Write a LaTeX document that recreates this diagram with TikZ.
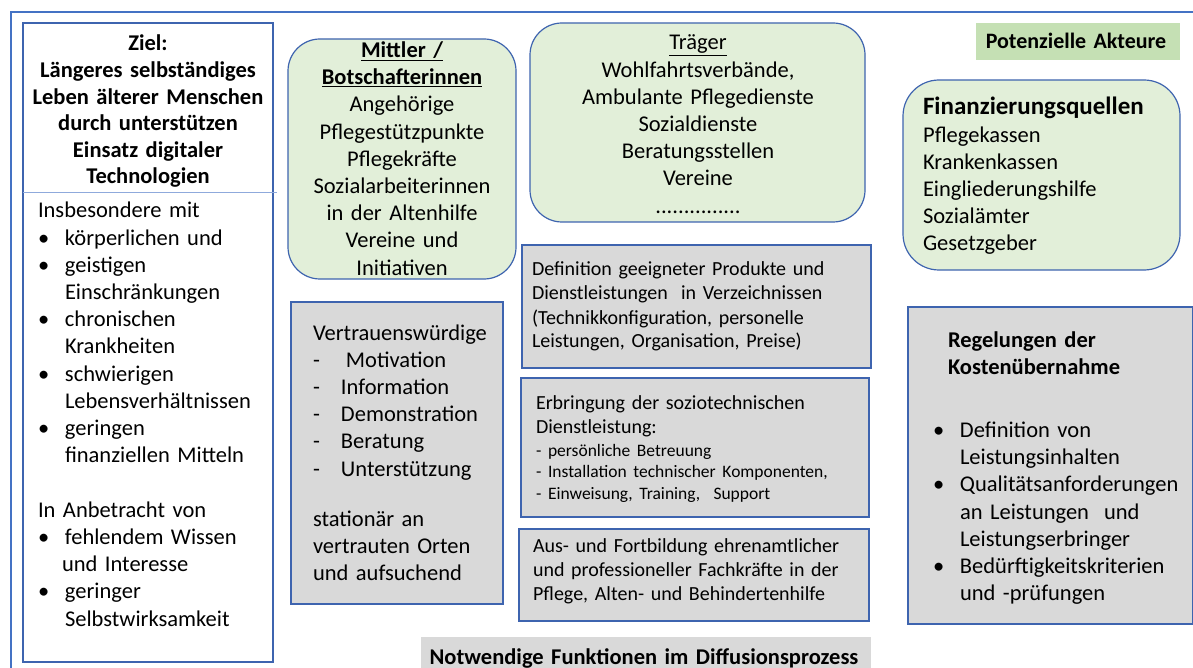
\documentclass[tikz,border=0pt]{standalone}
\usepackage{fontspec}
\setmainfont{Carlito}
\usetikzlibrary{positioning}
\definecolor{rahmen}{RGB}{68,114,196}
\definecolor{kante}{RGB}{62,100,175}
\definecolor{hellgruen}{RGB}{226,239,217}
\definecolor{gruen}{RGB}{197,224,180}
\definecolor{grau}{RGB}{217,217,217}
\definecolor{trennlinie}{RGB}{143,170,220}
\newcommand{\bul}{\makebox[27pt][l]{\textbullet}}
\newcommand{\strich}{\makebox[28pt][l]{-}}
\newcommand{\gross}{\fontsize{22.5}{27.2}\selectfont}
\newcommand{\mittel}{\fontsize{20}{24}\selectfont}
\newcommand{\klein}{\fontsize{17.5}{21.5}\selectfont}
\tikzset{
	kasten/.style={draw=kante, line width=1.2pt, anchor=north west, inner sep=0pt, outer sep=0pt},
	gruenkasten/.style={kasten, fill=hellgruen, rounded corners=32pt},
	graukasten/.style={kasten, fill=grau},
	txt/.style={inner sep=0pt, outer sep=0pt, anchor=base west, align=left, text width=#1},
	txt/.default=300pt,
	mitte/.style={inner sep=0pt, outer sep=0pt, anchor=base, align=center, text width=#1},
	mitte/.default=300pt
}

\begin{document}
\begin{tikzpicture}[x=1pt, y=-1pt]
	\useasboundingbox (0,0) rectangle (1193,668);
	% aeusserer Rahmen
	\draw[rahmen, line width=1.4pt] (11,668) -- (11,12) -- (1193,12);

	% Kaesten
	\node[kasten, minimum width=250pt, minimum height=639pt] (ziel) at (23,23) {};
	\node[gruenkasten, minimum width=228pt, minimum height=240pt] (mittler) at (288,39) {};
	\node[gruenkasten, minimum width=335pt, minimum height=199pt] (traeger) at (530,23) {};
	\node[kasten, draw=none, fill=gruen, minimum width=204pt, minimum height=37pt] (akteure) at (976,23) {};
	\node[gruenkasten, rounded corners=36pt, minimum width=277pt, minimum height=190pt] (finanz) at (903,80) {};
	\node[graukasten, minimum width=212pt, minimum height=302pt] (vertrauen) at (291,302) {};
	\node[graukasten, minimum width=349pt, minimum height=123pt] (definition) at (522,245) {};
	\node[graukasten, minimum width=348pt, minimum height=139pt] (erbringung) at (521,378) {};
	\node[graukasten, minimum width=350pt, minimum height=92pt] (fortbildung) at (519,529) {};
	\node[graukasten, minimum width=285pt, minimum height=317pt] (regelung) at (908,307) {};
	\node[kasten, draw=none, fill=grau, minimum width=450pt, minimum height=40pt] (notwendig) at (421,637) {};

	\draw[trennlinie, line width=0.8pt] (ziel.west |- 0,192) -- (277,192);

	% Texte
	\node[mitte=250pt, font=\bfseries\fontsize{22.5}{26.6}\selectfont] (zieltitel) at (148,51)
		{Ziel:\\Längeres selbständiges\\Leben älterer Menschen\\durch unterstützen\\Einsatz digitaler\\Technologien};
	\node[txt=240pt, font=\gross] (zieltext) at (38,218)
		{Insbesondere mit\\
		\bul körperlichen und\\
		\bul geistigen\\
		\hspace*{27pt}Einschränkungen\\
		\bul chronischen\\
		\hspace*{27pt}Krankheiten\\
		\bul schwierigen\\
		\hspace*{27pt}Lebensverhältnissen\\
		\bul geringen\\
		\hspace*{27pt}finanziellen Mitteln\\[27.2pt]
		In Anbetracht von\\
		\bul fehlendem Wissen\\
		\hspace*{24pt}und Interesse\\
		\bul geringer\\
		\hspace*{27pt}Selbstwirksamkeit};

	\node[mitte=228pt, font=\gross] (mittlertext) at (402,57.5)
		{\textbf{\underline{Mittler /}}\\\textbf{\underline{Botschafterinnen}}\\Angehörige\\Pflegestützpunkte\\Pflegekräfte\\Sozialarbeiterinnen\\in der Altenhilfe\\Vereine und\\Initiativen};
	\node[mitte=335pt, font=\gross] (traegertext) at (698,50)
		{\underline{Träger}\\Wohlfahrtsverbände,\\Ambulante Pflegedienste\\Sozialdienste\\Beratungsstellen\\Vereine\\...............};
	\node[mitte=204pt, font=\bfseries\fontsize{22}{26}\selectfont] (akteuretext) at (1076,49) {Potenzielle Akteure};
	\node[txt=250pt, font=\gross] (finanztext) at (923,115)
		{{\bfseries\fontsize{25}{28}\selectfont Finanzierungsquellen}\\Pflegekassen\\Krankenkassen\\Eingliederungshilfe\\Sozialämter\\Gesetzgeber};

	\node[txt=200pt, font=\gross] (vertrauentext) at (313,340)
		{Vertrauenswürdige\\
		\strich\hspace{5pt}Motivation\\
		\strich Information\\
		\strich Demonstration\\
		\strich Beratung\\
		\strich Unterstützung\\[23pt]
		stationär an\\
		vertrauten Orten\\
		und aufsuchend};

	\node[txt=340pt, font=\mittel] (definitiontext) at (532,276)
		{Definition geeigneter Produkte und\\
		Dienstleistungen\ \ in Verzeichnissen\\
		(Technikkonfiguration, personelle\\
		Leistungen, Organisation, Preise)};
	\node[txt=340pt, font=\mittel] (erbringungtext) at (536,409)
		{Erbringung der soziotechnischen\\
		Dienstleistung:\\[-1pt]
		{\klein - persönliche Betreuung}\\[-2.5pt]
		{\klein - Installation technischer Komponenten,}\\[-2.5pt]
		{\klein - Einweisung, Training,\ \ Support}};
	\node[txt=340pt, font=\mittel] (fortbildungtext) at (533,552)
		{Aus- und Fortbildung ehrenamtlicher\\
		und professioneller Fachkräfte in der\\
		Pflege, Alten- und Behindertenhilfe};

	\node[txt=260pt, font=\gross] (regelungtext) at (933,347)
		{\hspace*{15pt}\textbf{Regelungen der}\\
		\hspace*{15pt}\textbf{Kostenübernahme}\\[36pt]
		\bul Definition von\\
		\hspace*{27pt}Leistungsinhalten\\
		\bul Qualitätsanforderungen\\
		\hspace*{27pt}an Leistungen\ \ und\\
		\hspace*{27pt}Leistungserbringer\\
		\bul Bedürftigkeitskriterien\\
		\hspace*{27pt}und -prüfungen};

	\node[mitte=450pt, font=\bfseries\fontsize{22.5}{26}\selectfont] (notwendigtext) at (644,664)
		{Notwendige Funktionen im Diffusionsprozess};
\end{tikzpicture}
\end{document}
